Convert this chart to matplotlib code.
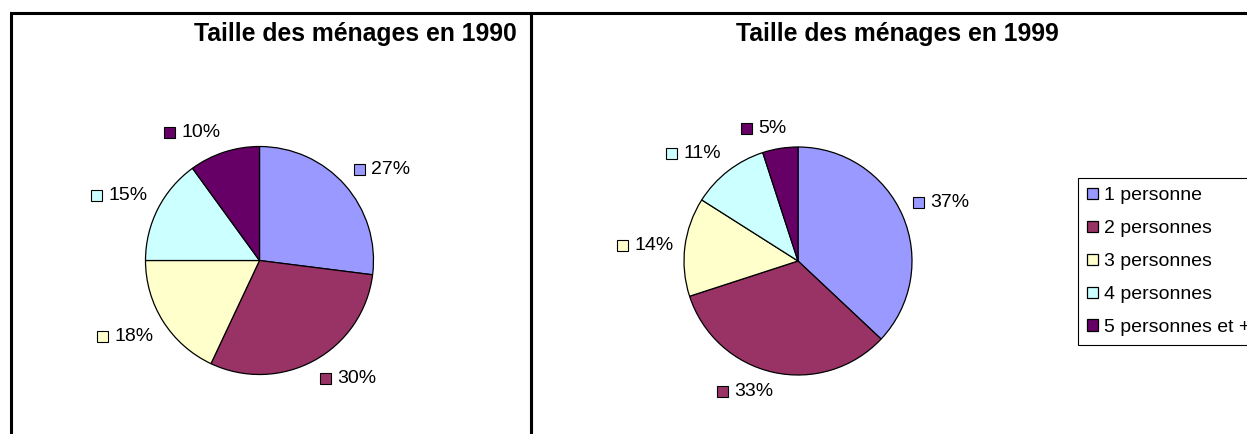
import matplotlib
matplotlib.use("Agg")
from matplotlib import pyplot as plt
from matplotlib.patches import Rectangle
from matplotlib.offsetbox import AnnotationBbox, DrawingArea, HPacker, TextArea
import numpy as np

plt.rcParams['font.family'] = ['Liberation Sans', 'DejaVu Sans']

# data
categories = ["1 personne", "2 personnes", "3 personnes", "4 personnes", "5 personnes et +"]
shares_1990 = [27, 30, 18, 15, 10]
shares_1999 = [37, 33, 14, 11, 5]
titles = ["Taille des ménages en 1990", "Taille des ménages en 1999"]
colors = ["#9999FF", "#993366", "#FFFFCC", "#CCFFFF", "#660066"]

W, H = 1247, 434
R = 114  # pie radius in pixels
fig = plt.figure(figsize=(W / 100, H / 100), dpi=100)


def fx(x):
    return x / W


def fy(y):
    return 1 - y / H


# panel frames (bottom and right are cut off in the original)
for x0, x1 in [(10.5, 530.7), (530.7, 1300)]:
    fig.patches.append(Rectangle((fx(x0), -0.1), fx(x1) - fx(x0), fy(13.5) + 0.1,
                                 fill=False, lw=2.2, edgecolor="black",
                                 transform=fig.transFigure, figure=fig))


def draw_pie(cx, cy, values):
    half = 200
    ax = fig.add_axes([fx(cx - half), fy(cy + half), 2 * half / W, 2 * half / H])
    lim = half / R
    wedges, _ = ax.pie(values, colors=colors, startangle=90, counterclock=False,
                       wedgeprops=dict(edgecolor="black", linewidth=0.9))
    ax.set_xlim(-lim, lim)
    ax.set_ylim(-lim, lim)
    ax.set_aspect("equal")
    ax.axis("off")

    total = float(sum(values))
    for w, v, c in zip(wedges, values, colors):
        mid = np.deg2rad((w.theta1 + w.theta2) / 2)
        cs, sn = np.cos(mid), np.sin(mid)
        # label box hangs off the pie on the side facing away from it
        bx = float(np.clip(0.5 - 2.1 * cs, 0, 1))
        by = 0.5 if abs(sn) < 0.2 else (0.0 if sn > 0 else 1.0)
        r = 1.10
        sq = 7.9
        da = DrawingArea(sq, sq, 0, 0)
        da.add_artist(Rectangle((0, 0), sq, sq, facecolor=c, edgecolor="black", lw=0.8))
        ta = TextArea(f"{v / total * 100:.0f}%", textprops=dict(fontsize=14, color="black"))
        box = HPacker(children=[da, ta], align="center", pad=0, sep=4.5)
        ab = AnnotationBbox(box, (r * cs, r * sn), frameon=False,
                            box_alignment=(bx, by), pad=0, annotation_clip=False)
        ax.add_artist(ab)
    return wedges


draw_pie(259.5, 260.5, shares_1990)
wedges = draw_pie(798, 261, shares_1999)

fig.text(fx(517), fy(41), titles[0], ha="right", va="baseline", fontsize=17.8, fontweight="bold")
fig.text(fx(1059), fy(41), titles[1], ha="right", va="baseline", fontsize=17.8, fontweight="bold")

# legend runs past the right edge, as in the original
leg = fig.legend(wedges, categories, loc="upper left",
                 bbox_to_anchor=(fx(1077.7), fy(178.3)), bbox_transform=fig.transFigure,
                 borderaxespad=0, fontsize=14, frameon=True, fancybox=False,
                 edgecolor="black", framealpha=1, handlelength=0.55, handleheight=0.55,
                 handletextpad=0.35, labelspacing=0.82, borderpad=0.47)
leg.get_frame().set_linewidth(0.8)

plt.savefig("out.png", dpi=100)
plt.close()
